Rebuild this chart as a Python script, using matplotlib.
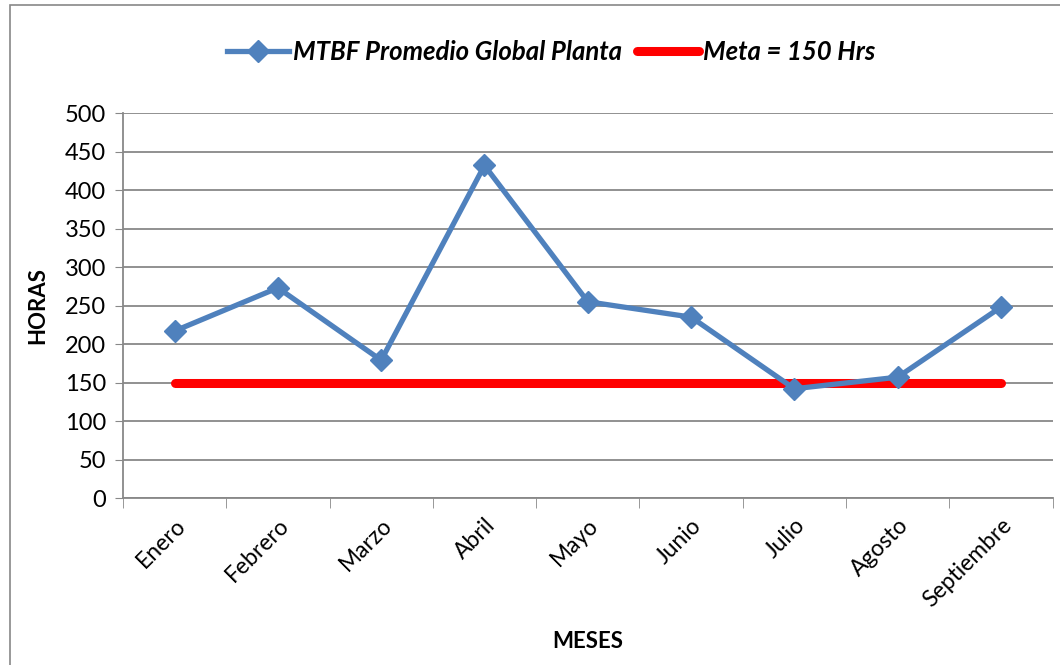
import matplotlib.pyplot as plt
from matplotlib.patches import Rectangle
from matplotlib.lines import Line2D

meses = ["Enero", "Febrero", "Marzo", "Abril", "Mayo", "Junio", "Julio", "Agosto", "Septiembre"]
mtbf = [217, 273, 179, 432, 255, 235, 142, 157, 248]
meta = [150] * len(meses)

plt.rcParams['font.family'] = ['Lato', 'DejaVu Sans']

fig = plt.figure(figsize=(10.6, 6.65), dpi=100)
ax = fig.add_axes([0.116, 0.251, 0.877, 0.579])

x = list(range(len(meses)))
ax.plot(x, meta, color="#FF0000", linewidth=6.5, solid_capstyle="round", zorder=3)
ax.plot(x, mtbf, color="#4F81BD", linewidth=3.8, marker="D", markersize=11, zorder=4)

ax.set_xlim(-0.5, len(meses) - 0.5)
ax.set_ylim(0, 500)
ax.set_yticks(range(0, 501, 50))
ax.set_xticks(x)
ax.set_xticklabels(meses, rotation=45, ha="right", rotation_mode="anchor", fontsize=16.5)
ax.set_xticks([i - 0.5 for i in range(len(meses) + 1)], minor=True)
ax.tick_params(axis="x", which="major", length=0, pad=12)
ax.tick_params(axis="x", which="minor", length=7, color="#888888")
ax.tick_params(axis="y", length=6, color="#888888", labelsize=17, pad=6)
ax.grid(axis="y", color="#888888", linewidth=1.3)
ax.set_axisbelow(True)
for s in ["top", "right"]:
    ax.spines[s].set_visible(False)
for s in ["left", "bottom"]:
    ax.spines[s].set_color("#888888")
    ax.spines[s].set_linewidth(1.3)

ax.set_ylabel("HORAS", fontsize=16, fontweight="bold", labelpad=12)
ax.set_xlabel("MESES", fontsize=16, fontweight="bold", labelpad=14)

handles = [
    Line2D([], [], color="#4F81BD", linewidth=3.8, marker="D", markersize=11),
    Line2D([], [], color="#FF0000", linewidth=6.5, solid_capstyle="round"),
]
fig.legend(handles, ["MTBF Promedio Global Planta", "Meta = 150 Hrs"],
           loc="center", bbox_to_anchor=(0.52, 0.922), ncol=2, frameon=False,
           prop={"size": 18.5, "weight": "bold", "style": "italic"},
           handlelength=2.4, handletextpad=0.15, columnspacing=0.6)

fig.patches.append(Rectangle((0.0095, -0.05), 1.2, 1.042, transform=fig.transFigure,
                             fill=False, edgecolor="#888888", linewidth=1.2))

plt.savefig("out.png")
